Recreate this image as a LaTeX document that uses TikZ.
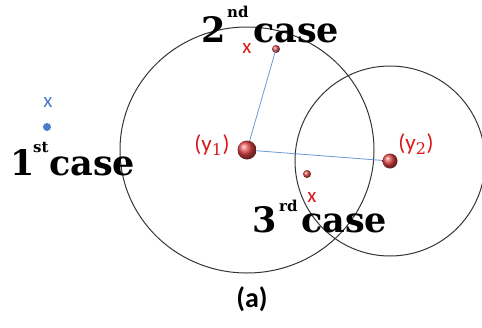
\documentclass[tikz,border=0pt]{standalone}
\usepackage{fontspec}
\setmainfont{DejaVu Serif}
\newfontfamily\lblfont{Carlito}
\definecolor{lblred}{HTML}{D81818}
\definecolor{lnblue}{HTML}{6A9AD8}
\definecolor{dotblue}{HTML}{4A7EC8}
\definecolor{circgray}{HTML}{353535}
\definecolor{ballred}{HTML}{E04545}
\tikzset{
  bigball/.style={circle, inner sep=0pt, minimum size=19pt, ball color=ballred},
  midball/.style={circle, inner sep=0pt, minimum size=15pt, ball color=ballred},
  smallball/.style={circle, inner sep=0pt, minimum size=8pt, ball color=ballred},
  bluedot/.style={circle, inner sep=0pt, minimum size=8pt, fill=dotblue},
  casetxt/.style={anchor=base west, inner sep=0pt, font=\fontsize{35}{40}\selectfont\bfseries},
  suptxt/.style={anchor=base west, inner sep=0pt, font=\fontsize{15}{18}\selectfont\bfseries},
  ylbl/.style={inner sep=0pt, text=lblred, font=\lblfont\fontsize{23}{26}\selectfont},
  xlbl/.style={inner sep=0pt, font=\lblfont\fontsize{21}{22}\selectfont},
  ring/.style={draw=circgray, line width=1pt},
  link/.style={draw=lnblue, line width=0.8pt}
}
\begin{document}
\begin{tikzpicture}[x=1pt,y=-1pt]
\useasboundingbox (0,0) rectangle (482,327);
% centres
\coordinate (c1) at (247,150);
\coordinate (c2) at (390,161);
% circles
\draw[ring] (c1) ellipse [x radius=127, y radius=123];
\draw[ring] (c2) circle [radius=95];
% points
\node[bluedot] (p1) at (47,127) {};
\node[smallball] (p2) at (276,49) {};
\node[smallball] (p3) at (307,174) {};
% links
\draw[link] (c1) -- (p2.center);
\draw[link] (c1) -- (c2);
\node[bigball] (y1) at (c1) {};
\node[midball] (y2) at (c2) {};
% labels
\node[ylbl] (ly1) at (212,145) {(y$_{\mathrm{1}}$)};
\node[ylbl] (ly2) at (416,144) {(y$_{\mathrm{2}}$)};
\node[xlbl, text=dotblue] (x1) at (48,102) {x};
\node[xlbl, text=lblred] (x2) at (247,48) {x};
\node[xlbl, text=lblred] (x3) at (312,197) {x};
% case texts
\node[casetxt] (n1) at (10,175) {1};
\node[suptxt] (s1) at (33,152) {st};
\node[casetxt] (t1) at (49,175) {case};
\node[casetxt] (n2) at (201,42) {2};
\node[suptxt] (s2) at (227,17) {nd};
\node[casetxt] (t2) at (253,42) {case};
\node[casetxt] (n3) at (252,232) {3};
\node[suptxt] (s3) at (279,211) {rd};
\node[casetxt] (t3) at (301,232) {case};
% caption
\node[inner sep=0pt, font=\lblfont\bfseries\fontsize{28}{32}\selectfont] (cap) at (252,299) {(a)};
\end{tikzpicture}
\end{document}
